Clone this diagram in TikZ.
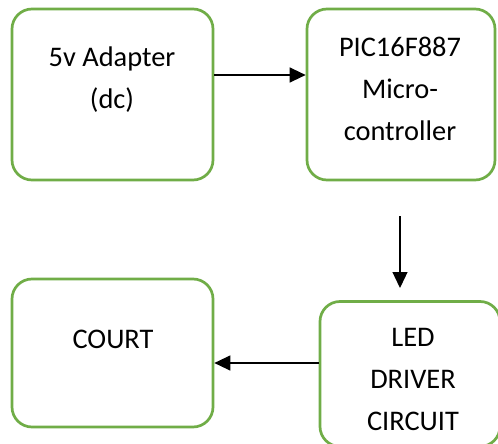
\documentclass[tikz,border=0pt]{standalone}
\usepackage{fontspec}
\setmainfont{Carlito}
\usetikzlibrary{arrows.meta}
\definecolor{boxgreen}{RGB}{112,173,71}
\tikzset{
  blockbox/.style={draw=boxgreen, line width=2.7pt, rounded corners=20pt, fill=white, inner sep=0pt},
  blocktext/.style={align=center, font=\fontsize{28.4}{42}\selectfont, inner sep=0pt, text=black},
  arr/.style={draw=black, line width=1.3pt, -{Triangle[length=16pt,width=15pt]}}
}
\begin{document}
\begin{tikzpicture}[x=1pt,y=1pt]
\useasboundingbox (0,0) rectangle (498,-444);
\fill[white] (0,0) rectangle (498,-444);
% boxes
\node[blockbox, minimum width=201pt, minimum height=171pt] (adapter) at (112.5,-94.5) {};
\node[blockbox, minimum width=188pt, minimum height=171pt] (pic) at (401,-94.5) {};
\node[blockbox, minimum width=201pt, minimum height=148pt] (court) at (112.5,-353) {};
\node[blockbox, minimum width=180pt, minimum height=145pt] (led) at (410,-374) {};
% texts
\node[blocktext] (adaptertext) at (112,-80) {5v Adapter\\(dc)};
\node[blocktext] (pictext) at (400,-89) {PIC16F887\\Micro-\\controller};
\node[blocktext] (courttext) at (113,-339) {COURT};
\node[blocktext] (ledtext) at (413,-379) {LED\\DRIVER\\CIRCUIT};
% connector coordinates
\coordinate (r1) at (0,-75);
\coordinate (r3) at (0,-363);
\coordinate (vstart) at (400,-216);
\coordinate (vend) at (400,-288);
% connectors
\draw[arr] (adapter.east |- r1) -- (pic.west |- r1);
\draw[arr] (vstart) -- (vend);
\draw[arr] (led.west |- r3) -- (court.east |- r3);
\end{tikzpicture}
\end{document}
